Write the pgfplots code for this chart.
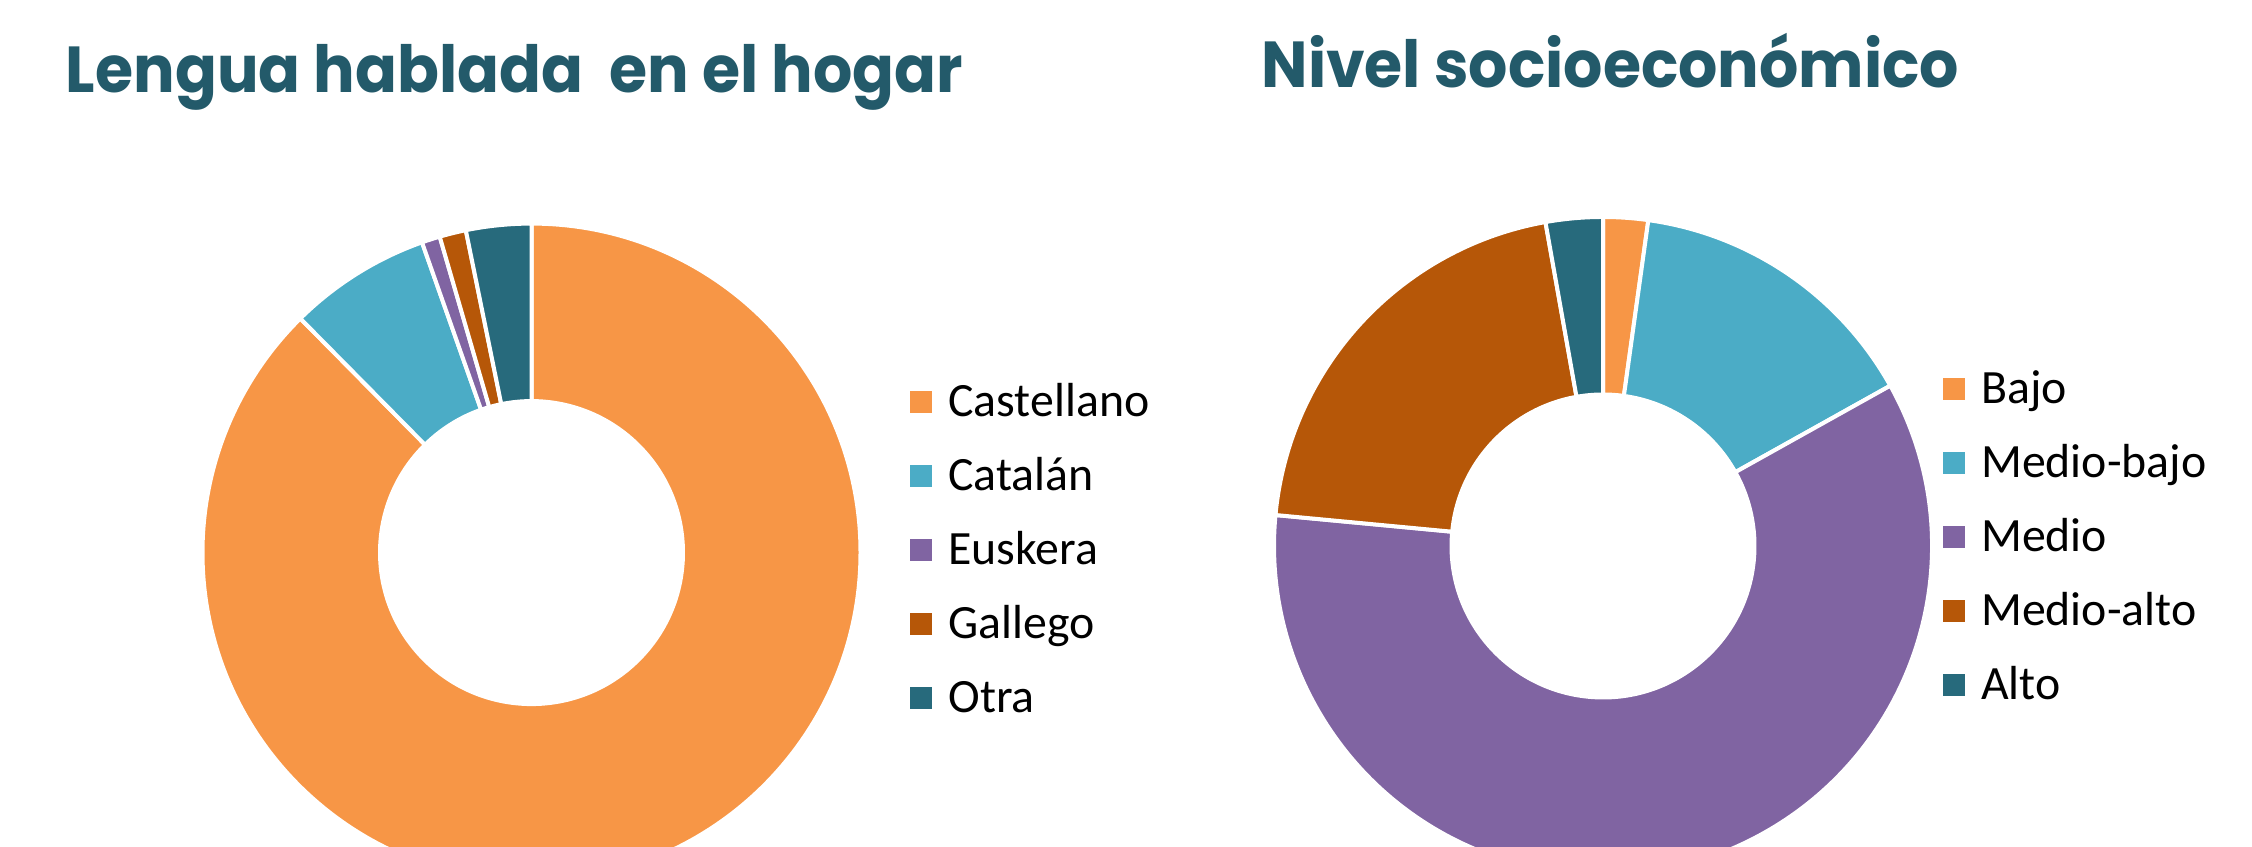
\documentclass[border=0pt]{standalone}
\usepackage{fontspec}
\usepackage{pgfplots}
\usepackage{pgfplotstable}
\pgfplotsset{compat=1.18}
\newfontfamily\legendfont{Carlito}
\newfontfamily\titlefont{Poppins}[FakeStretch=0.95]
\definecolor{c1}{HTML}{F79646}
\definecolor{c2}{HTML}{4BACC6}
\definecolor{c3}{HTML}{8064A2}
\definecolor{c4}{HTML}{B65708}
\definecolor{c5}{HTML}{276A7C}
\definecolor{titlecol}{HTML}{235A6A}

\pgfplotstableread{
label value color
Castellano 87.6 c1
Catalan 7.0 c2
Euskera 0.9 c3
Gallego 1.3 c4
Otra 3.2 c5
}\lengua

\pgfplotstableread{
label value color
Bajo 2.2 c1
Medio-bajo 14.7 c2
Medio 59.6 c3
Medio-alto 20.7 c4
Alto 2.8 c5
}\nivel

\def\Rout{3.29cm}
\def\Rin{1.515cm}

\newcommand{\donut}[1]{%
  \pgfplotstablegetrowsof{#1}%
  \pgfmathtruncatemacro\lastrow{\pgfplotsretval-1}%
  \def\curang{90}%
  \pgfplotsforeachungrouped \i in {0,...,\lastrow}{%
    \pgfplotstablegetelem{\i}{value}\of{#1}\let\val\pgfplotsretval
    \pgfplotstablegetelem{\i}{color}\of{#1}\let\col\pgfplotsretval
    \pgfmathsetmacro\endang{\curang-3.6*\val}%
    \edef\temp{\noexpand\fill[fill=\col,draw=white,line width=0.04cm,line join=round]
      ([shift={(\curang:\Rout)}]axis cs:0,0)
      arc[start angle=\curang,end angle=\endang,radius=\Rout]
      -- ([shift={(\endang:\Rin)}]axis cs:0,0)
      arc[start angle=\endang,end angle=\curang,radius=\Rin] -- cycle;}%
    \temp
    \let\curang\endang
  }%
}

\pgfplotsset{
  donutaxis/.style={
    anchor=origin, x=0.01cm, y=0.01cm,
    xmin=-340, xmax=340, ymin=-340, ymax=340,
    hide axis, clip=false,
    every axis title/.style={anchor=base west, inner sep=0pt,
      font=\titlefont\bfseries\fontsize{18.5pt}{24pt}\selectfont, text=titlecol},
    legend image code/.code={\fill[##1] (0cm,0.034cm) rectangle (0.22cm,0.256cm);},
    legend cell align=left,
    legend style={draw=none, fill=none, inner sep=0pt, outer sep=0pt,
      anchor=north west, row sep=0pt, column sep=0.166cm,
      font=\legendfont\fontsize{13.6pt}{16pt}\selectfont,
      nodes={inner sep=0pt, text height=0.37cm, text depth=0.37cm}},
  }
}

\begin{document}
\begin{tikzpicture}
\useasboundingbox (0,0) rectangle (22.52cm,8.47cm);
\clip (0,0) rectangle (22.52cm,8.47cm);

\begin{axis}[donutaxis, at={(5.315cm,2.944cm)},
  title={Lengua hablada\ \ en el hogar},
  title style={at={(-0.1860,1.1769)}},
  legend style={at={(1.0566,0.7541)}}]
\donut{\lengua}
\addlegendimage{fill=c1,draw=none}\addlegendentry{Castellano}
\addlegendimage{fill=c2,draw=none}\addlegendentry{Catalán}
\addlegendimage{fill=c3,draw=none}\addlegendentry{Euskera}
\addlegendimage{fill=c4,draw=none}\addlegendentry{Gallego}
\addlegendimage{fill=c5,draw=none}\addlegendentry{Otra}
\end{axis}

\begin{axis}[donutaxis, at={(16.03cm,3.01cm)},
  title={Nivel socioeconómico},
  title style={at={(-0.0034,1.1746)}},
  legend style={at={(0.9996,0.764)}}]
\donut{\nivel}
\addlegendimage{fill=c1,draw=none}\addlegendentry{Bajo}
\addlegendimage{fill=c2,draw=none}\addlegendentry{Medio-bajo}
\addlegendimage{fill=c3,draw=none}\addlegendentry{Medio}
\addlegendimage{fill=c4,draw=none}\addlegendentry{Medio-alto}
\addlegendimage{fill=c5,draw=none}\addlegendentry{Alto}
\end{axis}
\end{tikzpicture}
\end{document}
